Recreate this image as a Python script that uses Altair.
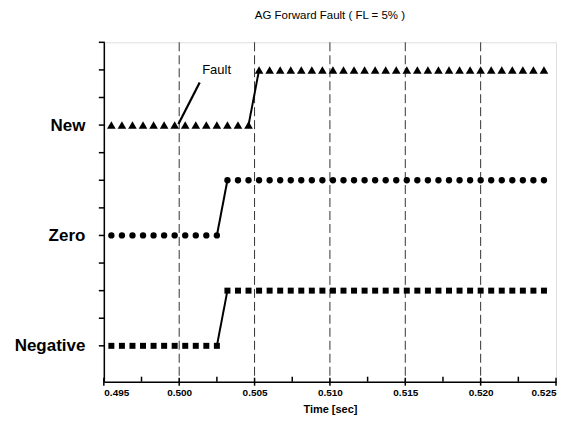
import altair as alt
import pandas as pd

# ---- data ----
series_names = ["Negative", "Zero", "New"]
series_base = [0, 2, 4]          # vertical offset of each trace (low state)

new_low_t = [0.4955, 0.4962, 0.4969, 0.4976, 0.4983, 0.4990, 0.4997, 0.5004,
             0.5011, 0.5018, 0.5025, 0.5032, 0.5039, 0.5046]
new_high_t = [0.5053, 0.5060, 0.5067, 0.5074, 0.5081, 0.5088, 0.5095, 0.5102,
              0.5109, 0.5116, 0.5123, 0.5130, 0.5137, 0.5144, 0.5151, 0.5158,
              0.5165, 0.5172, 0.5179, 0.5186, 0.5193, 0.5200, 0.5207, 0.5214,
              0.5221, 0.5228, 0.5235, 0.5242]
zero_low_t = [0.4955, 0.4962, 0.4969, 0.4976, 0.4983, 0.4990, 0.4997, 0.5004,
              0.5011, 0.5018, 0.5025]
zero_high_t = [0.5032, 0.5039, 0.5046, 0.5053, 0.5060, 0.5067, 0.5074, 0.5081,
               0.5088, 0.5095, 0.5102, 0.5109, 0.5116, 0.5123, 0.5130, 0.5137,
               0.5144, 0.5151, 0.5158, 0.5165, 0.5172, 0.5179, 0.5186, 0.5193,
               0.5200, 0.5207, 0.5214, 0.5221, 0.5228, 0.5235, 0.5242]
neg_low_t = [0.4955, 0.4962, 0.4969, 0.4976, 0.4983, 0.4990, 0.4997, 0.5004,
             0.5011, 0.5018, 0.5025]
neg_high_t = [0.5032, 0.5039, 0.5046, 0.5053, 0.5060, 0.5067, 0.5074, 0.5081,
              0.5088, 0.5095, 0.5102, 0.5109, 0.5116, 0.5123, 0.5130, 0.5137,
              0.5144, 0.5151, 0.5158, 0.5165, 0.5172, 0.5179, 0.5186, 0.5193,
              0.5200, 0.5207, 0.5214, 0.5221, 0.5228, 0.5235, 0.5242]

x_major = [0.495, 0.500, 0.505, 0.510, 0.515, 0.520, 0.525]
x_minor = [0.4975, 0.5025, 0.5075, 0.5125, 0.5175, 0.5225]
grid_x = [0.500, 0.505, 0.510, 0.515, 0.520]
y_ticks = [0, 0.5, 1, 1.5, 2, 2.5, 3, 3.5, 4, 4.5, 5, 5.5]

fault_text = ["Fault"]
fault_text_xy = [0.50248, 4.99]
fault_arrow = [0.50136, 4.77, 0.49995, 4.02]

title_text = "AG Forward Fault ( FL = 5% )"
x_title = "Time [sec]"

# ---- build tables ----
rows = []
steps = []
for name, base, lo, hi in zip(series_names, series_base,
                              [neg_low_t, zero_low_t, new_low_t],
                              [neg_high_t, zero_high_t, new_high_t]):
    for t in lo:
        rows.append({"series": name, "t": t, "v": base})
    for t in hi:
        rows.append({"series": name, "t": t, "v": base + 1})
    # the rising edge joins the last low sample to the first high sample
    steps.append({"series": name, "t": lo[-1], "v": base})
    steps.append({"series": name, "t": hi[0], "v": base + 1})
df = pd.DataFrame(rows)
step_df = pd.DataFrame(steps)

FONT = "Liberation Sans"
xscale = alt.Scale(domain=[0.495, 0.525], nice=False, zero=False)
yscale = alt.Scale(domain=[-0.65, 5.5], nice=False, zero=False)

label_map = "{'0': 'Negative', '2': 'Zero', '4': 'New'}"

x_enc = alt.X("t:Q", scale=xscale, title=x_title,
              axis=alt.Axis(values=x_major, format=".3f",
                            grid=False, ticks=False,
                            domainColor="black", domainWidth=1.5,
                            labelFont=FONT, labelFontSize=10, labelFontWeight="bold",
                            labelColor="black", labelPadding=6,
                            titleFont=FONT, titleFontSize=11, titleFontWeight="bold",
                            titleColor="black", titlePadding=6))
y_enc = alt.Y("v:Q", scale=yscale, title=None,
              axis=alt.Axis(values=[0, 2, 4],
                            labelExpr=label_map + "[toString(datum.value)] || ''",
                            grid=False, ticks=False,
                            domainColor="black", domainWidth=1.5,
                            labelFont=FONT, labelFontSize=17, labelFontWeight="bold",
                            labelColor="black", labelPadding=19))

grid = alt.Chart(pd.DataFrame({"g": grid_x})).mark_rule(
    color="#333333", strokeWidth=1, strokeDash=[9, 4]
).encode(x=alt.X("g:Q", scale=xscale))

# axis tick marks
ytick = alt.Chart(pd.DataFrame({"yt": y_ticks})).mark_rule(
    color="black", strokeWidth=1.5
).encode(y=alt.Y("yt:Q", scale=yscale), x=alt.value(-5), x2=alt.value(1))
xtick_major = alt.Chart(pd.DataFrame({"xt": x_major})).mark_rule(
    color="black", strokeWidth=1.5
).encode(x=alt.X("xt:Q", scale=xscale), y=alt.value(336), y2=alt.value(344))
xtick_minor = alt.Chart(pd.DataFrame({"xm": x_minor})).mark_rule(
    color="black", strokeWidth=1.5
).encode(x=alt.X("xm:Q", scale=xscale), y=alt.value(335), y2=alt.value(340))

lines = alt.Chart(step_df).mark_line(color="black", strokeWidth=2).encode(
    x=x_enc, y=y_enc, detail="series:N", order="t:Q")

marker_style = {"Negative": ("square", 36), "Zero": ("circle", 40),
                "New": ("triangle-up", 75)}
point_layers = []
for name in series_names:
    shp, sz = marker_style[name]
    point_layers.append(
        alt.Chart(df[df["series"] == name]).mark_point(
            filled=True, color="black", opacity=1, shape=shp, size=sz
        ).encode(x=alt.X("t:Q", scale=xscale), y=alt.Y("v:Q", scale=yscale))
    )

arrow_df = pd.DataFrame({"x1": [fault_arrow[0]], "y1": [fault_arrow[1]],
                         "x2": [fault_arrow[2]], "y2": [fault_arrow[3]]})
arrow = alt.Chart(arrow_df).mark_rule(color="black", strokeWidth=2.2).encode(
    x=alt.X("x1:Q", scale=xscale), y=alt.Y("y1:Q", scale=yscale),
    x2="x2:Q", y2="y2:Q")

text_df = pd.DataFrame({"label": fault_text, "x": [fault_text_xy[0]],
                        "y": [fault_text_xy[1]]})
text = alt.Chart(text_df).mark_text(font=FONT, fontSize=13, color="black",
                                    align="center", baseline="middle").encode(
    x=alt.X("x:Q", scale=xscale), y=alt.Y("y:Q", scale=yscale), text="label:N")

chart = alt.layer(grid, ytick, xtick_major, xtick_minor, lines, *point_layers,
                  arrow, text).properties(
    width=453, height=340,
    title=alt.TitleParams(title_text, font=FONT, fontSize=11.5, fontWeight="normal",
                          color="black", anchor="middle", offset=20),
    autosize=alt.AutoSizeParams(type="none"),
    padding={"left": 96, "top": 34, "right": 8, "bottom": 40},
).configure_view(stroke=None).configure(background="white")

chart.save("out.html", embed_options={"renderer": "svg", "actions": False})
